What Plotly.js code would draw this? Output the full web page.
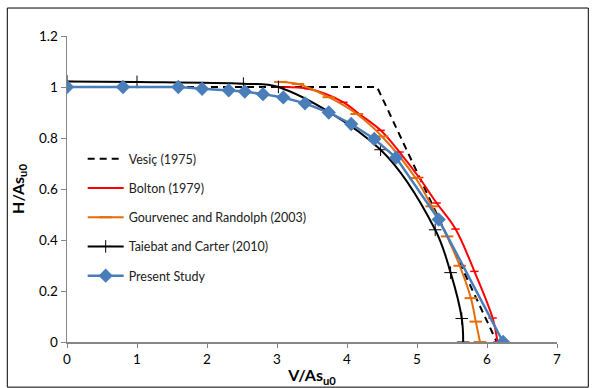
<!DOCTYPE html>
<html>
<head>
<meta charset="utf-8">
<script src="https://cdn.plot.ly/plotly-3.0.1.min.js"></script>
<style>
html,body{margin:0;padding:0;background:#fff;}
#chart{width:595px;height:388px;}
</style>
</head>
<body>
<div id="chart"></div>
<script>
// Vesiç (1975)
const vesicV = [0, 4.43, 6.14];
const vesicH = [1.0, 1.0, 0];
// Bolton (1979)
const boltonV = [3.02, 3.45, 3.95, 4.17, 4.48, 4.75, 5.03, 5.28, 5.55, 5.82, 6.08, 6.15];
const boltonH = [1.0, 0.993, 0.94, 0.895, 0.83, 0.745, 0.645, 0.545, 0.443, 0.277, 0.094, 0];
// Gourvenec and Randolph (2003)
const gourV = [3.05, 3.3, 3.74, 4.14, 4.5, 4.98, 5.21, 5.43, 5.61, 5.77, 5.84, 5.9];
const gourH = [1.02, 1.012, 0.96, 0.894, 0.806, 0.643, 0.532, 0.414, 0.299, 0.172, 0.08, 0];
// Taiebat and Carter (2010)
const taiebatV = [0, 1.0, 2.52, 3.02, 4.48, 5.26, 5.48, 5.64, 5.66];
const taiebatH = [1.022, 1.02, 1.013, 1.0, 0.754, 0.44, 0.272, 0.092, 0];
// Present Study
const presentV = [0, 0.8, 1.59, 1.93, 2.31, 2.54, 2.80, 3.09, 3.40, 3.74, 4.06, 4.39, 4.70, 5.31, 6.23];
const presentH = [1.0, 1.0, 1.0, 0.993, 0.987, 0.982, 0.972, 0.959, 0.936, 0.900, 0.855, 0.796, 0.723, 0.48, 0];

const xTicks = [0, 1, 2, 3, 4, 5, 6, 7];
const yTicks = [0, 0.2, 0.4, 0.6, 0.8, 1, 1.2];
const names = ['Vesiç (1975)', 'Bolton (1979)', 'Gourvenec and Randolph (2003)', 'Taiebat and Carter (2010)', 'Present Study'];

const traces = [
  {x: vesicV, y: vesicH, name: names[0], mode: 'lines', legendgroup: 'a',
   line: {color: '#000000', width: 2, dash: '7px,5px'}},
  {x: boltonV, y: boltonH, name: names[1], mode: 'lines+markers', legendgroup: 'b',
   line: {color: '#FF0000', width: 2, shape: 'spline', smoothing: 1},
   marker: {symbol: 'line-ew', size: 6, color: '#FF0000', line: {color: '#FF0000', width: 1.5}}},
  {x: gourV, y: gourH, name: names[2], mode: 'lines+markers', legendgroup: 'c',
   line: {color: '#E46C0A', width: 2, shape: 'spline', smoothing: 1},
   marker: {symbol: 'line-ew', size: 9, color: '#E46C0A', line: {color: '#E46C0A', width: 2}}},
  {x: taiebatV, y: taiebatH, name: names[3], mode: 'lines+markers', legendgroup: 'd',
   line: {color: '#000000', width: 2, shape: 'spline', smoothing: 1},
   marker: {symbol: 'cross-thin', size: 9, color: '#000000', line: {color: '#000000', width: 1}}},
  {x: presentV, y: presentH, name: names[4], mode: 'lines+markers', legendgroup: 'e',
   line: {color: '#4A7EBB', width: 2.5},
   marker: {symbol: 'diamond', size: 11, color: '#4A7EBB'}}
];

const pw = 490, ph = 306.3;
const layout = {
  width: 595, height: 388,
  margin: {l: 66.7, r: 38.3, t: 36, b: 45.7, pad: 0},
  paper_bgcolor: '#ffffff', plot_bgcolor: '#ffffff',
  font: {family: 'Lato, "Liberation Sans", sans-serif', color: '#000000'},
  xaxis: {
    range: [0, 7], tickvals: xTicks, ticktext: xTicks.map(String),
    showgrid: false, zeroline: false, showline: true, linecolor: '#868686', linewidth: 1.5,
    ticks: 'outside', ticklen: 4, tickcolor: '#868686', tickfont: {size: 13.5},
    title: {text: '<b>V/As<sub>u0</sub></b>', font: {size: 16}, standoff: 4}
  },
  yaxis: {
    range: [0, 1.2], tickvals: yTicks, ticktext: ['0', '0.2', '0.4', '0.6', '0.8', '1', '1.2'],
    showgrid: false, zeroline: false, showline: true, linecolor: '#868686', linewidth: 1.5,
    ticks: 'outside', ticklen: 5, tickcolor: '#868686', tickfont: {size: 13.5},
    title: {text: '<b>H/As<sub>u0</sub></b>', font: {size: 16}, standoff: 10}
  },
  showlegend: true,
  legend: {
    x: 0.032, y: 0.647, xanchor: 'left', yanchor: 'top',
    bgcolor: 'rgba(0,0,0,0)', font: {size: 12.5, color: '#202020'},
    tracegroupgap: 10, itemwidth: 36
  },
  shapes: [{
    type: 'rect', xref: 'paper', yref: 'paper',
    x0: (7 - 66.7) / pw, x1: (588 - 66.7) / pw,
    y0: (342.3 - 387.5) / ph, y1: (342.3 - 8) / ph,
    line: {color: '#000000', width: 1}, fillcolor: 'rgba(0,0,0,0)', layer: 'below'
  }]
};

Plotly.newPlot('chart', traces, layout, {displayModeBar: false, staticPlot: true});
</script>
</body>
</html>
